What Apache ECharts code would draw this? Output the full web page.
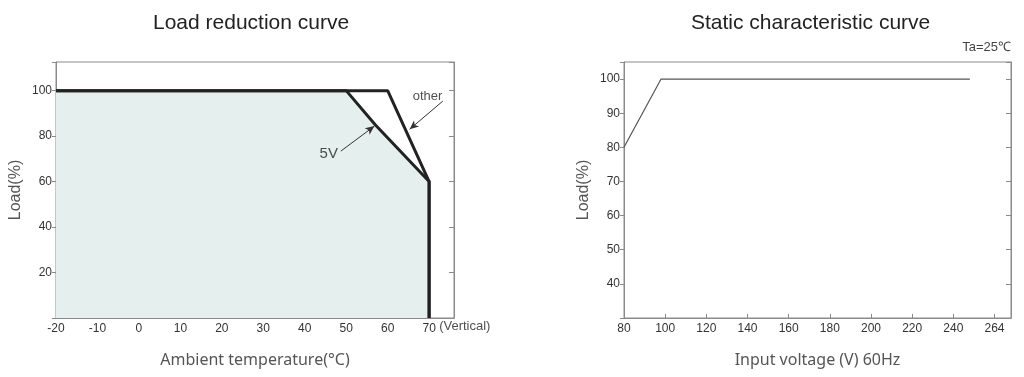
<!DOCTYPE html>
<html><head><meta charset="utf-8">
<script src="https://cdn.jsdelivr.net/npm/echarts@6/dist/echarts.min.js"></script>
<style>html,body{margin:0;padding:0;background:#fff}#c{width:1024px;height:377px}</style>
</head><body><div id="c"></div>
<script>
// ---- data ----
const tempTicks = ['-20','-10','0','10','20','30','40','50','60','70'];
const loadTicksLeft = ['20','40','60','80','100'];
const otherCurve = [[-20,100],[60,100],[70,60],[70,0]];
const fiveVCurve = [[-20,100],[50,100],[57,85],[70,60],[70,0]];
const otherArrow = [[73.3,95.4],[65.3,83]];
const fiveVArrow = [[48.7,73.4],[56.8,84.4]];
const annotLabels = [
  {text:'other', at:[69.6,97.4], size:13, dy:0},
  {text:'5V', at:[45.8,72.4], size:15, dy:0},
  {text:'(Vertical)', at:[78.6,0], size:13, dy:8}
];

const voltTicks = ['80','100','120','140','160','180','200','220','240','264'];
const loadTicksRight = ['40','50','60','70','80','90','100'];
const staticCurve = [[80,80],[98,100],[248,100]];

const axisColor = '#8a8a8a';
const labelFont = {fontFamily:'Liberation Sans', fontSize:12, color:'#333'};

function xAxisBase(gi, min, max, interval, ticks, name, nameFont){
  return {
    type:'value', gridIndex:gi, min:min, max:max, interval:interval,
    name:name, nameLocation:'middle', nameGap:34,
    nameTextStyle:Object.assign({fontSize:16, color:'#555'}, nameFont),
    axisLine:{show:true, onZero:false, lineStyle:{color:axisColor, width:1}},
    axisTick:{show:true, inside:true, length:4, lineStyle:{color:axisColor}},
    splitLine:{show:false},
    axisLabel:Object.assign({margin:5, showMaxLabel:true, formatter:function(v){
      const i = Math.round((v-min)/interval);
      if (Math.abs(min + i*interval - v) > 1e-6) return '';
      return ticks[i] !== undefined ? ticks[i] : '';
    }}, labelFont)
  };
}
function yAxisLeft(gi, min, max, interval, ticks){
  return {
    type:'value', gridIndex:gi, min:min, max:max, interval:interval,
    name:'Load(%)', nameLocation:'middle', nameGap:32,
    nameTextStyle:{fontFamily:'Liberation Sans', fontSize:16, color:'#555'},
    axisLine:{show:true, onZero:false, lineStyle:{color:axisColor}},
    axisTick:{show:true, inside:false, length:4, lineStyle:{color:axisColor}},
    splitLine:{show:false},
    axisLabel:Object.assign({margin:4, formatter:function(v){
      const s = String(v); return ticks.indexOf(s) >= 0 ? s : '';
    }}, labelFont)
  };
}
function yAxisRight(gi, min, max, interval){
  return {
    type:'value', gridIndex:gi, min:min, max:max, interval:interval, position:'right',
    axisLine:{show:true, onZero:false, lineStyle:{color:axisColor}},
    axisTick:{show:true, inside:true, length:5, lineStyle:{color:axisColor}},
    axisLabel:{show:false}, splitLine:{show:false}
  };
}

const chart = echarts.init(document.getElementById('c'), null, {renderer:'canvas'});
chart.setOption({
  animation:false,
  backgroundColor:'#fff',
  title:[
    {text:'Load reduction curve', left:148, top:8,
     textStyle:{fontFamily:'Liberation Sans', fontSize:21, fontWeight:'normal', color:'#222'}},
    {text:'Static characteristic curve', left:686, top:8,
     textStyle:{fontFamily:'Liberation Sans', fontSize:21, fontWeight:'normal', color:'#222'}},
    {text:'Ta=25℃', right:8, top:36,
     textStyle:{fontFamily:'Liberation Sans', fontSize:13, fontWeight:'normal', color:'#444'}}
  ],
  grid:[
    {left:56, top:62, width:398, height:256, show:true, borderColor:axisColor, borderWidth:1, backgroundColor:'#fff'},
    {left:624, top:62, width:387, height:256, show:true, borderColor:axisColor, borderWidth:1, backgroundColor:'#fff'}
  ],
  xAxis:[
    xAxisBase(0, -20, 76, 10, tempTicks, 'Ambient temperature(°C)', {fontFamily:'Noto Sans'}),
    xAxisBase(1, 80, 268, 20, voltTicks, 'Input voltage (V) 60Hz', {fontFamily:'Noto Sans'})
  ],
  yAxis:[
    yAxisLeft(0, 0, 112.6, 20, loadTicksLeft),
    yAxisRight(0, 0, 112.6, 20),
    yAxisLeft(1, 30, 105, 10, loadTicksRight),
    yAxisRight(1, 30, 105, 10)
  ],
  series:[
    {type:'line', xAxisIndex:0, yAxisIndex:0, data:fiveVCurve, symbol:'none', z:1,
     lineStyle:{width:0}, areaStyle:{color:'#e5efed', opacity:1}},
    {type:'line', xAxisIndex:0, yAxisIndex:0, data:otherCurve, symbol:'none', z:3,
     lineStyle:{width:3, color:'#222'}},
    {type:'line', xAxisIndex:0, yAxisIndex:0, data:fiveVCurve, symbol:'none', z:3,
     lineStyle:{width:3, color:'#222'},
     markLine:{silent:true, symbol:['none','arrow'], symbolSize:[6,9], animation:false,
       label:{show:false}, lineStyle:{color:'#333', width:1, type:'solid'},
       data:[
         [{coord:otherArrow[0]},{coord:otherArrow[1]}],
         [{coord:fiveVArrow[0]},{coord:fiveVArrow[1]}]
       ]}},
    {type:'scatter', xAxisIndex:0, yAxisIndex:0, symbolSize:0, z:5, clip:false,
     data:annotLabels.map(a => ({value:a.at, name:a.text,
       label:{fontSize:a.size, offset:[0,a.dy]}})),
     label:{show:true, position:'inside', formatter:p => p.name,
       fontFamily:'Liberation Sans', fontSize:13, color:'#222'}},
    {type:'line', xAxisIndex:1, yAxisIndex:2, data:staticCurve, symbol:'none', z:3,
     lineStyle:{width:1.2, color:'#555'}}
  ]
});
</script>
</body></html>
